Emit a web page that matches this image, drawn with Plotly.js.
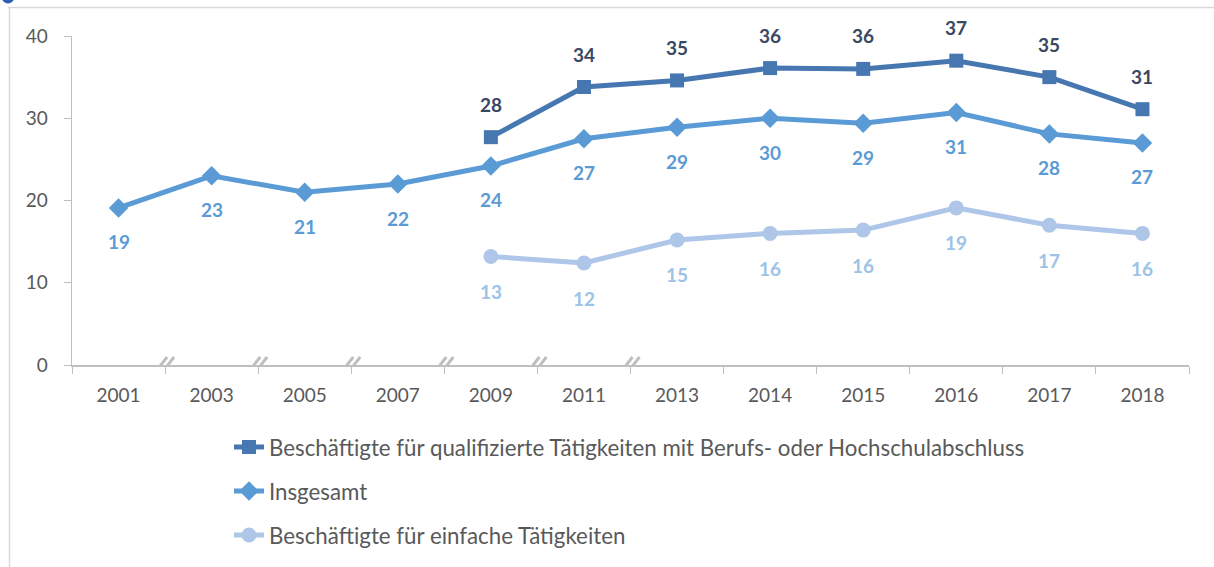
<!DOCTYPE html>
<html>
<head>
<meta charset="utf-8">
<script src="https://cdn.plot.ly/plotly-3.0.1.min.js"></script>
<style>html,body{margin:0;padding:0;background:#fff;}#chart{width:1214px;height:567px;}</style>
</head>
<body>
<div id="chart"></div>
<script>
const years = ["2001","2003","2005","2007","2009","2011","2013","2014","2015","2016","2017","2018"];
const qualifiziert = [null,null,null,null,27.7,33.8,34.6,36.1,36.0,37.0,35.0,31.1];
const insgesamt = [19.1,23.0,21.0,22.0,24.2,27.5,28.9,30.0,29.4,30.7,28.1,27.0];
const einfach = [null,null,null,null,13.2,12.4,15.2,16.0,16.4,19.1,17.0,16.0];
const qualLabels = [null,null,null,null,"28","34","35","36","36","37","35","31"];
const insLabels = ["19","23","21","22","24","27","29","30","29","31","28","27"];
const einLabels = [null,null,null,null,"13","12","15","16","16","19","17","16"];
const names = ["Beschäftigte für qualifizierte Tätigkeiten mit Berufs- oder Hochschulabschluss","Insgesamt","Beschäftigte für einfache Tätigkeiten"];
const breakPositions = [0.5,1.5,2.5,3.5,4.5,5.5];

const FONT = "Lato, 'Open Sans', sans-serif";
const cDark = "#4677b0", cMid = "#5b9bd5", cLight = "#aec6e8";
const lDark = "#3a4862", lMid = "#5b9bd5", lLight = "#9dc3e6";

const traces = [
  {x: years, y: qualifiziert, name: names[0], mode: "lines+markers", legendgroup: "a",
   line: {color: cDark, width: 5}, marker: {symbol: "square", size: 14, color: cDark}},
  {x: years, y: insgesamt, name: names[1], mode: "lines+markers", legendgroup: "b",
   line: {color: cMid, width: 5}, marker: {symbol: "diamond", size: 15, color: cMid}},
  {x: years, y: einfach, name: names[2], mode: "lines+markers", legendgroup: "c",
   line: {color: cLight, width: 5}, marker: {symbol: "circle", size: 15, color: cLight}}
];

const annotations = [];
function addLabels(vals, labels, shift, color) {
  for (let i = 0; i < years.length; i++) {
    if (vals[i] === null) continue;
    annotations.push({x: i, y: vals[i], xref: "x", yref: "y", text: "<b>" + labels[i] + "</b>", showarrow: false,
      yshift: shift, font: {family: FONT, size: 19, color: color}});
  }
}
addLabels(qualifiziert, qualLabels, 33, lDark);
addLabels(insgesamt, insLabels, -34, lMid);
addLabels(einfach, einLabels, -35, lLight);

const shapes = [];
const W = 1117, H = 329, L = 72, T = 36;
const px = v => (v - L) / W;
const py = v => (T + H - v) / H;
shapes.push({type: "line", xref: "paper", yref: "paper", x0: px(8), x1: px(1214), y0: py(7.5), y1: py(7.5), line: {color: "#d9d9d9", width: 1.5}});
shapes.push({type: "line", xref: "paper", yref: "paper", x0: px(9.5), x1: px(9.5), y0: py(7.5), y1: py(567), line: {color: "#d9d9d9", width: 1.5}});
shapes.push({type: "circle", xref: "paper", yref: "paper", x0: px(2), x1: px(14), y0: py(3.5), y1: py(-8), fillcolor: "#2f5fb3", line: {width: 0}});
breakPositions.forEach(b => {
  shapes.push({type: "path", xref: "x", yref: "y", xsizemode: "pixel", ysizemode: "pixel", xanchor: b, yanchor: 0,
    path: "M-9,-9 L4,8 L9,8 L-4,-9 Z", fillcolor: "#ffffff", line: {width: 0}, layer: "above"});
  shapes.push({type: "line", xref: "x", yref: "y", xsizemode: "pixel", ysizemode: "pixel", xanchor: b, yanchor: 0,
    x0: -12, y0: -10, x1: 2, y1: 8, line: {color: "#bfbfbf", width: 3}, layer: "above"});
  shapes.push({type: "line", xref: "x", yref: "y", xsizemode: "pixel", ysizemode: "pixel", xanchor: b, yanchor: 0,
    x0: -5, y0: -10, x1: 9, y1: 8, line: {color: "#bfbfbf", width: 3}, layer: "above"});
});

const layout = {
  width: 1214, height: 567,
  margin: {l: L, r: 1214 - L - W, t: T, b: 567 - T - H, autoexpand: false},
  paper_bgcolor: "#ffffff", plot_bgcolor: "#ffffff",
  font: {family: FONT, size: 19, color: "#595959"},
  showlegend: true,
  legend: {orientation: "v", x: px(229), xanchor: "left", y: py(426), yanchor: "top",
    traceorder: "grouped", tracegroupgap: 12, font: {family: FONT, size: 22.3, color: "#595959"},
    bgcolor: "rgba(0,0,0,0)"},
  xaxis: {type: "category", range: [-0.5, 11.5], tickson: "boundaries", ticks: "outside", ticklen: 7,
    tickcolor: "#bfbfbf", showline: true, linecolor: "#bfbfbf", linewidth: 1.5, showgrid: false, zeroline: false,
    tickfont: {family: FONT, size: 19, color: "#595959"}, ticklabelstandoff: 13, fixedrange: true},
  yaxis: {range: [0, 40], dtick: 10, tick0: 0, ticks: "outside", ticklen: 7, tickcolor: "#bfbfbf",
    showline: true, linecolor: "#bfbfbf", linewidth: 1.5, showgrid: false, zeroline: false,
    tickfont: {family: FONT, size: 19, color: "#595959"}, ticklabelstandoff: 12, fixedrange: true},
  annotations: annotations,
  shapes: shapes
};

Plotly.newPlot("chart", traces, layout, {displayModeBar: false, staticPlot: true});
</script>
</body>
</html>
